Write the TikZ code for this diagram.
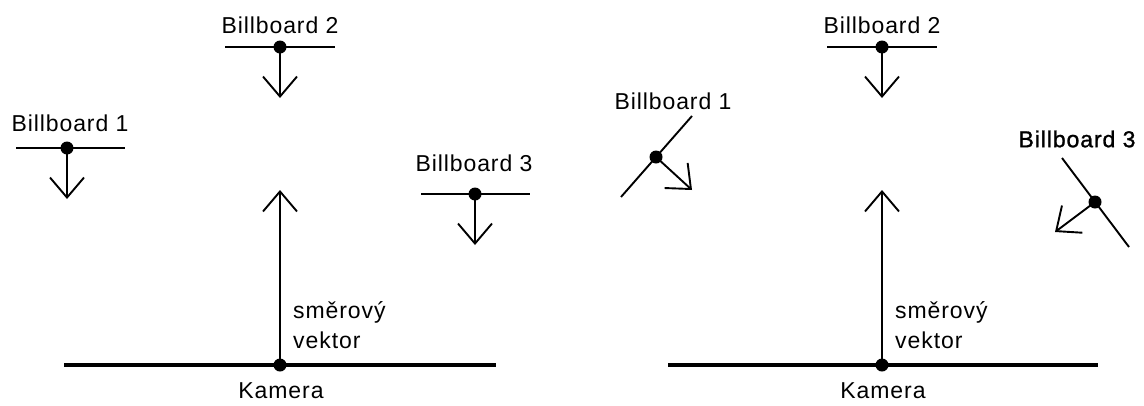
\documentclass[tikz,border=0pt]{standalone}
\usepackage{fontspec}
\setmainfont{Liberation Sans}[LetterSpace=4]
\newfontfamily\heavylabel{Liberation Sans}[LetterSpace=4,FakeBold=1.2]
\usetikzlibrary{arrows.meta}
\tikzset{
  dot/.style={circle,fill=black,inner sep=0pt,minimum size=13pt},
  board/.style={line width=1.9pt},
  facing/.style={line width=1.9pt,-{Straight Barb[length=20pt,width=34pt,line width=1.9pt]}},
  cam/.style={line width=3.8pt},
  lbl/.style={font=\fontsize{23}{30}\selectfont,inner sep=0pt,align=left},
  heavy/.style={font=\heavylabel\fontsize{23}{30}\selectfont},
}
\begin{document}
\begin{tikzpicture}[x=1pt,y=-1pt]
\useasboundingbox (0,0) rectangle (1144,405);

% ---------- left scene: billboards parallel to the camera plane ----------
% camera
\coordinate (lcl) at (64,365);
\coordinate (lcr) at (496,365);
\coordinate (lct) at (280,190);
\draw[cam] (lcl) -- (lcr);
\node[dot] (lcam) at (280,365) {};
\draw[facing] (lcam.center) -- (lct);
\node[lbl] (lkam) at (281,391) {Kamera};
\node[lbl,anchor=west] (lvec) at (293,325) {směrový\\vektor};

% billboard 1
\coordinate (lb1l) at (16,148);
\coordinate (lb1r) at (125,148);
\coordinate (lb1t) at (67,199);
\draw[board] (lb1l) -- (lb1r);
\node[dot] (lb1) at (67,148) {};
\draw[facing] (lb1.center) -- (lb1t);
\node[lbl] (lb1txt) at (70,123) {Billboard 1};

% billboard 2
\coordinate (lb2l) at (225,47);
\coordinate (lb2r) at (335,47);
\coordinate (lb2t) at (280,98);
\draw[board] (lb2l) -- (lb2r);
\node[dot] (lb2) at (280,47) {};
\draw[facing] (lb2.center) -- (lb2t);
\node[lbl] (lb2txt) at (280,25) {Billboard 2};

% billboard 3
\coordinate (lb3l) at (421,194);
\coordinate (lb3r) at (530,194);
\coordinate (lb3t) at (475,245);
\draw[board] (lb3l) -- (lb3r);
\node[dot] (lb3) at (475,194) {};
\draw[facing] (lb3.center) -- (lb3t);
\node[lbl] (lb3txt) at (474,163) {Billboard 3};

% ---------- right scene: billboards turned towards the camera ----------
% camera
\coordinate (rcl) at (668,365);
\coordinate (rcr) at (1098,365);
\coordinate (rct) at (882,190);
\draw[cam] (rcl) -- (rcr);
\node[dot] (rcam) at (882,365) {};
\draw[facing] (rcam.center) -- (rct);
\node[lbl] (rkam) at (883,391) {Kamera};
\node[lbl,anchor=west] (rvec) at (895,325) {směrový\\vektor};

% billboard 1
\coordinate (rb1l) at (621,197);
\coordinate (rb1r) at (692,116);
\coordinate (rb1t) at (692,190);
\draw[board] (rb1l) -- (rb1r);
\node[dot] (rb1) at (656,157) {};
\draw[facing] (rb1.center) -- (rb1t);
\node[lbl] (rb1txt) at (673,101) {Billboard 1};

% billboard 2
\coordinate (rb2l) at (827,47);
\coordinate (rb2r) at (937,47);
\coordinate (rb2t) at (882,98);
\draw[board] (rb2l) -- (rb2r);
\node[dot] (rb2) at (882,47) {};
\draw[facing] (rb2.center) -- (rb2t);
\node[lbl] (rb2txt) at (882,25) {Billboard 2};

% billboard 3
\coordinate (rb3l) at (1062,158);
\coordinate (rb3r) at (1129,247);
\coordinate (rb3t) at (1055,232);
\draw[board] (rb3l) -- (rb3r);
\node[dot] (rb3) at (1095,202) {};
\draw[facing] (rb3.center) -- (rb3t);
\node[lbl,heavy] (rb3txt) at (1077,139) {Billboard 3};
\end{tikzpicture}
\end{document}
